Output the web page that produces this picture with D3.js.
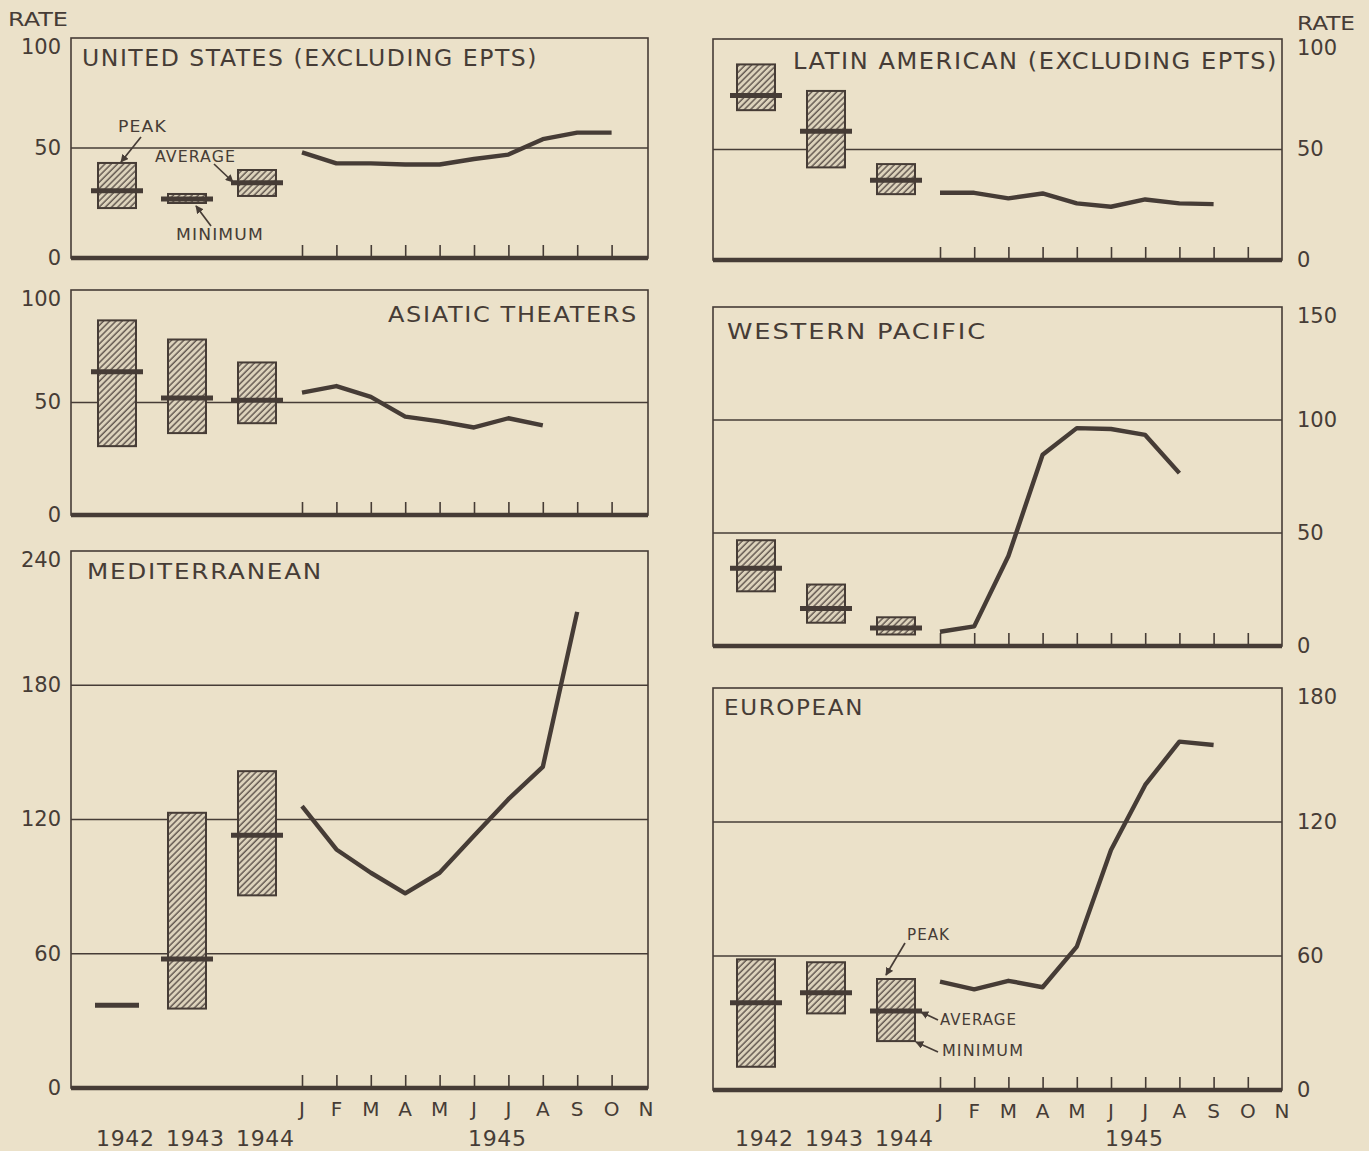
<!DOCTYPE html>
<html>
<head>
<meta charset="utf-8">
<script src="https://cdn.jsdelivr.net/npm/d3@7"></script>
<style>
  html, body { margin: 0; padding: 0; background: #ebe1c9; }
  svg { display: block; }
  text { font-family: "DejaVu Sans", sans-serif; fill: #463c36; }
</style>
</head>
<body>
<svg id="chart" width="1369" height="1151"></svg>
<script>
// ---- data -------------------------------------------------------------
const years = ["1942", "1943", "1944"];
const months = ["J", "F", "M", "A", "M", "J", "J", "A", "S", "O", "N"];

// United States (excluding EPTs)
const usPeak = [43.2, 29.1, 40.0];
const usMin  = [22.7, 25.0, 28.2];
const usAvg  = [30.6, 26.8, 34.2];
const us1945 = [48, 43, 43, 42.5, 42.5, 45, 47, 54, 57, 57];

// Latin American (excluding EPTs)
const latPeak = [88.5, 76.5, 43.4];
const latMin  = [67.8, 41.9, 29.8];
const latAvg  = [74.4, 58.3, 36.1];
const lat1945 = [30.4, 30.4, 27.9, 30.1, 25.6, 24.1, 27.4, 25.6, 25.3];

// Asiatic theaters
const asiaPeak = [86.5, 78.0, 67.8];
const asiaMin  = [30.6, 36.4, 40.8];
const asiaAvg  = [63.7, 52.0, 51.0];
const asia1945 = [54.4, 57.3, 52.5, 43.7, 41.6, 38.9, 43.0, 39.8];

// Western Pacific
const wpPeak = [46.8, 27.2, 12.7];
const wpMin  = [24.2, 10.3, 5.1];
const wpAvg  = [34.4, 16.6, 8.0];
const wp1945 = [6.3, 8.7, 39.8, 84.6, 96.4, 96.0, 93.4, 76.5];

// Mediterranean
const medPeak = [37, 123.0, 141.6];
const medMin  = [37, 35.5, 86.1];
const medAvg  = [37, 57.7, 113.0];
const med1945 = [126, 106.6, 96.2, 87, 96.2, 112.7, 129.1, 143.5, 212.8];

// European
const eurPeak = [58.5, 57.2, 49.7];
const eurMin  = [10.4, 34.3, 21.9];
const eurAvg  = [39.1, 43.6, 35.4];
const eur1945 = [48.5, 45.1, 48.9, 46.0, 64.2, 107.5, 136.6, 156.0, 154.5];

const leftTicksUS   = [0, 50, 100];
const leftTicksAsia = [0, 50, 100];
const leftTicksMed  = [0, 60, 120, 180, 240];
const rightTicksLat = [0, 50, 100];
const rightTicksWP  = [0, 50, 100, 150];
const rightTicksEur = [0, 60, 120, 180];

// ---- layout -----------------------------------------------------------
const INK = "#463c36";
const sides = {
  left:  { x0: 71,  x1: 648,  yearX: [117, 187, 257], monthX: [302, 646] },
  right: { x0: 713, x1: 1282, yearX: [756, 826, 896], monthX: [940, 1282] }
};

const panels = [
  { title: "UNITED STATES (EXCLUDING EPTS)", side: "left", top: 38, bottom: 258, max: 100,
    ticks: leftTicksUS, peak: usPeak, min: usMin, avg: usAvg, line: us1945,
    tx: 82, ty: 66, tw: 456, fs: 23 },
  { title: "ASIATIC THEATERS", side: "left", top: 290, bottom: 515, max: 100,
    ticks: leftTicksAsia, peak: asiaPeak, min: asiaMin, avg: asiaAvg, line: asia1945,
    tx: 388, ty: 322, tw: 250, fs: 22 },
  { title: "MEDITERRANEAN", side: "left", top: 551, bottom: 1088, max: 240,
    ticks: leftTicksMed, peak: medPeak, min: medMin, avg: medAvg, line: med1945,
    tx: 87, ty: 579, tw: 236, fs: 21, labels: true },
  { title: "LATIN AMERICAN (EXCLUDING EPTS)", side: "right", top: 39, bottom: 260, max: 100,
    ticks: rightTicksLat, peak: latPeak, min: latMin, avg: latAvg, line: lat1945,
    tx: 793, ty: 69, tw: 485, fs: 23 },
  { title: "WESTERN  PACIFIC", side: "right", top: 307, bottom: 646, max: 150,
    ticks: rightTicksWP, peak: wpPeak, min: wpMin, avg: wpAvg, line: wp1945,
    tx: 727, ty: 339, tw: 260, fs: 21 },
  { title: "EUROPEAN", side: "right", top: 688, bottom: 1090, max: 180,
    ticks: rightTicksEur, peak: eurPeak, min: eurMin, avg: eurAvg, line: eur1945,
    tx: 724, ty: 715, tw: 140, fs: 21, labels: true }
];

const svg = d3.select("#chart");

// hatching used inside the yearly range boxes
const defs = svg.append("defs");
defs.append("pattern")
  .attr("id", "hatch")
  .attr("patternUnits", "userSpaceOnUse")
  .attr("width", 4.4).attr("height", 4.4)
  .attr("patternTransform", "rotate(45)")
  .call(p => {
    p.append("rect").attr("width", 4.4).attr("height", 4.4).attr("fill", "#ddd3bc");
    p.append("line").attr("x1", 1).attr("x2", 1).attr("y1", 0).attr("y2", 4.4)
      .attr("stroke", "#544943").attr("stroke-width", 1.3);
  });
defs.append("marker")
  .attr("id", "arrow")
  .attr("viewBox", "0 0 10 10")
  .attr("refX", 9).attr("refY", 5)
  .attr("markerWidth", 8).attr("markerHeight", 8)
  .attr("markerUnits", "userSpaceOnUse")
  .attr("orient", "auto")
  .append("path").attr("d", "M0,0 L10,5 L0,10 Z").attr("fill", INK);

panels.forEach(p => {
  const s = sides[p.side];
  const g = svg.append("g");
  const y = d3.scaleLinear().domain([0, p.max]).range([p.bottom, p.top]);
  const xm = d3.scalePoint().domain(d3.range(months.length)).range(s.monthX);
  const xy = d3.scalePoint().domain(years).range([s.yearX[0], s.yearX[2]]);

  // frame
  g.append("rect")
    .attr("x", s.x0).attr("y", p.top)
    .attr("width", s.x1 - s.x0).attr("height", p.bottom - p.top)
    .attr("fill", "none").attr("stroke", INK).attr("stroke-width", 1.6);

  // horizontal rules at the labelled values
  g.selectAll("line.grid")
    .data(p.ticks.filter(t => t > 0 && t < p.max))
    .join("line")
    .attr("x1", s.x0).attr("x2", s.x1)
    .attr("y1", d => y(d)).attr("y2", d => y(d))
    .attr("stroke", INK).attr("stroke-width", 1.5);

  // heavy zero line
  g.append("line")
    .attr("x1", s.x0).attr("x2", s.x1)
    .attr("y1", p.bottom).attr("y2", p.bottom)
    .attr("stroke", INK).attr("stroke-width", 4.5);

  // month ticks along the zero line
  const monthAxis = d3.axisTop(xm)
    .tickValues(d3.range(months.length - 1))
    .tickSize(13).tickFormat("");
  g.append("g")
    .attr("transform", `translate(0,${p.bottom})`)
    .call(monthAxis)
    .call(a => a.select(".domain").remove())
    .call(a => a.selectAll(".tick line").attr("stroke", INK).attr("stroke-width", 1.6));

  // value labels
  const yAxis = (p.side === "left" ? d3.axisLeft(y) : d3.axisRight(y))
    .tickValues(p.ticks).tickSize(0)
    .tickPadding(p.side === "left" ? 10 : 15);
  g.append("g")
    .attr("transform", `translate(${p.side === "left" ? s.x0 : s.x1},0)`)
    .call(yAxis)
    .call(a => a.select(".domain").remove())
    .call(a => a.selectAll(".tick text")
      .attr("font-size", 21)
      .attr("fill", INK)
      .style("font-family", '"DejaVu Sans", sans-serif')
      .attr("dy", d => d === p.max ? "0.75em" : "0.3em"));

  // yearly range boxes: peak (top), minimum (bottom), average (bar)
  const boxW = 38, avgW = 52;
  years.forEach((yr, i) => {
    const cx = xy(yr);
    if (p.peak[i] > p.min[i]) {
      g.append("rect")
        .attr("x", cx - boxW / 2).attr("y", y(p.peak[i]))
        .attr("width", boxW).attr("height", y(p.min[i]) - y(p.peak[i]))
        .attr("fill", "url(#hatch)").attr("stroke", INK).attr("stroke-width", 2);
    }
    const w = p.peak[i] > p.min[i] ? avgW : 44;
    g.append("line")
      .attr("x1", cx - w / 2).attr("x2", cx + w / 2)
      .attr("y1", y(p.avg[i])).attr("y2", y(p.avg[i]))
      .attr("stroke", INK).attr("stroke-width", 5);
  });

  // 1945 monthly rates
  g.append("path")
    .datum(p.line)
    .attr("fill", "none").attr("stroke", INK)
    .attr("stroke-width", 4.4).attr("stroke-linejoin", "round")
    .attr("d", d3.line().x((d, i) => xm(i)).y(d => y(d)));

  // panel name (wide hand lettering: glyphs stretched to the drawn width)
  g.append("text")
    .attr("x", p.tx).attr("y", p.ty)
    .attr("font-size", p.fs)
    .attr("letter-spacing", 1.5)
    .attr("textLength", p.tw).attr("lengthAdjust", "spacingAndGlyphs")
    .text(p.title);

  // month and year labels under the bottom panels
  if (p.labels) {
    g.selectAll("text.month")
      .data(months)
      .join("text")
      .attr("x", (d, i) => xm(i)).attr("y", p.bottom + 28)
      .attr("text-anchor", "middle").attr("font-size", 20)
      .text(d => d);
    g.selectAll("text.year")
      .data(years)
      .join("text")
      .attr("x", d => xy(d) + 8).attr("y", 1146)
      .attr("text-anchor", "middle").attr("font-size", 22)
      .attr("textLength", 58).attr("lengthAdjust", "spacing")
      .text(d => d);
    g.append("text")
      .attr("x", (xm(0) + xm(months.length - 1)) / 2 + 23).attr("y", 1146)
      .attr("text-anchor", "middle").attr("font-size", 22)
      .attr("textLength", 58).attr("lengthAdjust", "spacing")
      .text("1945");
  }
});

// "RATE" headings over the value labels
svg.append("text").attr("x", 8).attr("y", 26).attr("font-size", 20)
  .attr("textLength", 60).attr("lengthAdjust", "spacingAndGlyphs").text("RATE");
svg.append("text").attr("x", 1297).attr("y", 30).attr("font-size", 20)
  .attr("textLength", 58).attr("lengthAdjust", "spacingAndGlyphs").text("RATE");

// key annotations
function note(label, tx, ty, tw, from, to) {
  svg.append("text").attr("x", tx).attr("y", ty).attr("font-size", 15)
    .attr("letter-spacing", 1)
    .attr("textLength", tw).attr("lengthAdjust", "spacingAndGlyphs").text(label);
  svg.append("line")
    .attr("x1", from[0]).attr("y1", from[1]).attr("x2", to[0]).attr("y2", to[1])
    .attr("stroke", INK).attr("stroke-width", 1.7)
    .attr("marker-end", "url(#arrow)");
}
note("PEAK", 118, 132, 49, [141, 137], [121, 162]);
note("AVERAGE", 155, 162, 81, [214, 164], [233, 182]);
note("MINIMUM", 176, 240, 88, [211, 226], [196, 206]);
note("PEAK", 907, 940, 43, [905, 943], [886, 975]);
note("AVERAGE", 940, 1025, 77, [938, 1020], [921, 1012]);
note("MINIMUM", 942, 1056, 82, [938, 1052], [916, 1042]);
</script>
</body>
</html>
